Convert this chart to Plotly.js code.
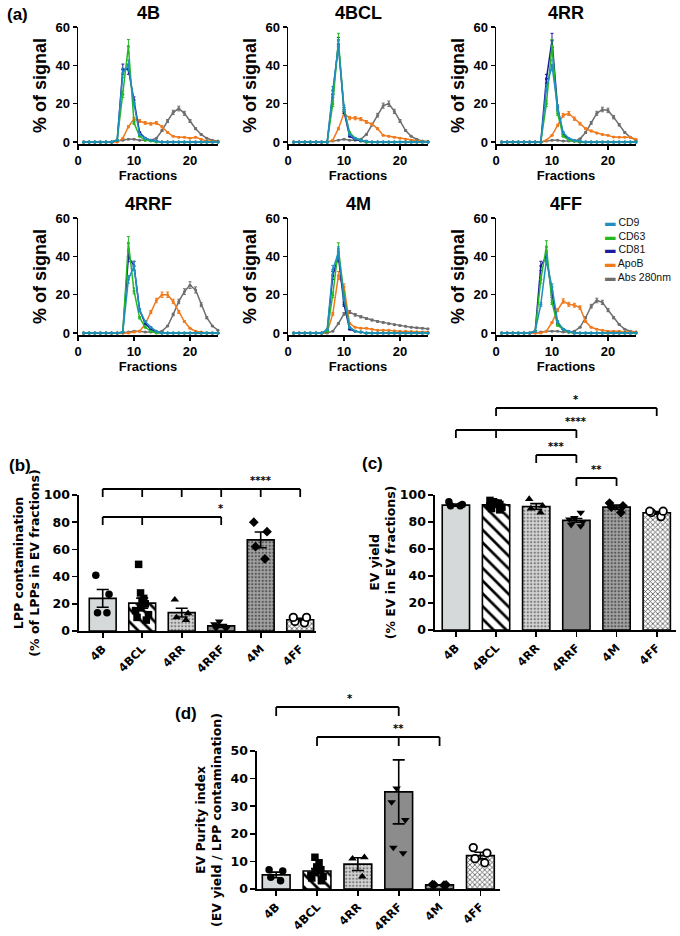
<!DOCTYPE html>
<html><head><meta charset="utf-8">
<script src="https://cdn.plot.ly/plotly-3.0.1.min.js"></script>
<style>html,body{margin:0;padding:0;background:#fff}#chart{width:680px;height:936px}</style>
</head><body><div id="chart"></div>
<script>
// ---------- Panel (a) data: % of signal per SEC fraction ----------
const fractions = [1,2,3,4,5,6,7,8,9,10,11,12,13,14,15,16,17,18,19,20,21,22,23,24,25];
const seriesNames = ['CD9','CD63','CD81','ApoB','Abs 280nm'];
const profilePanels = ['4B','4BCL','4RR','4RRF','4M','4FF'];

const cd9_4B  = [0,0,0,0,0,0,1,36,40,20,4,2,1,0.5,0,0,0,0,0,0,0,0,0,0,0];
const cd63_4B = [0,0,0,0,0,0,1,25,50,10,3,1,0.5,0,0,0,0,0,0,0,0,0,0,0,0];
const cd81_4B = [0,0,0,0,0,0,1,38,38,22,5,2,1,0.5,0,0,0,0,0,0,0,0,0,0,0];
const apob_4B = [0,0,0,0,0,0,0,2,8,12,11,10,9.5,10,8,5,3,2.5,2.5,2,2.5,1.5,0.5,0.5,0.3];
const abs_4B  = [0,0,0,0,0,0,0.5,1,1.5,1.5,1,1,1,2,6,11,15.5,17.5,15,11,7,4,2,1,0.5];

const cd9_4BCL  = [0,0,0,0,0,0,0,27,50,18,4,2,1,0.5,0,0,0,0,0,0,0,0,0,0,0];
const cd63_4BCL = [0,0,0,0,0,0,0,20,53,17,5,2,1,0,0,0,0,0,0,0,0,0,0,0,0];
const cd81_4BCL = [0,0,0,0,0,0,0,25,51,16,3,1.5,0.5,0,0,0,0,0,0,0,0,0,0,0,0];
const apob_4BCL = [0,0,0,0,0,0,0,1,7,15,12.5,12.5,12,10.5,9.3,7,3.5,3,2.5,2,1.5,1,0.5,0.3,0.2];
const abs_4BCL  = [0,0,0,0,0,0,0,0.5,1,1.5,1,1,1.5,4,9,14,19,20,16,11,6,3,1.5,0.5,0.3];

const cd9_4RR  = [0,0,0,0,0,0,0,0,28,40,18,5,2,1,0.5,0,0,0,0,0,0,0,0,0,0];
const cd63_4RR = [0,0,0,0,0,0,0,0,20,50,15,3,1,0.5,0,0,0,0,0,0,0,0,0,0,0];
const cd81_4RR = [0,0,0,0,0,0,0,0,33,53,18,4,1.5,0.5,0,0,0,0,0,0,0,0,0,0,0];
const apob_4RR = [0,0,0,0,0,0,0,0,1,3.5,8.7,14,14.9,12.2,9.6,7,5.8,4.7,4,3.5,2.6,2.5,2.5,2.5,1.5];
const abs_4RR  = [0,0,0,0,0,0,0,0,0.5,1,1,0.5,0.5,0.5,1.7,5,10,15,17,16.5,13,9,5,2.5,1];

const cd9_4RRF  = [0,0,0,0,0,0,0,0.5,28,35,12,6,3,1,0,0,0,0,0,0,0,0,0,0,0];
const cd63_4RRF = [0,0,0,0,0,0,0,0.5,47,22,8,3,1,0,0,0,0,0,0,0,0,0,0,0,0];
const cd81_4RRF = [0,0,0,0,0,0,0,0.5,40,35,12,5,2,0.5,0,0,0,0,0,0,0,0,0,0,0];
const apob_4RRF = [0,0,0,0,0,0,0,0,0,0.5,1,4.6,11,17,20,20,16.5,11,6,2.5,1,0.5,0,0,0];
const abs_4RRF  = [0,0,0,0,0,0,0,0,0.5,1,1,0.5,0.5,0.5,1,3.7,9.7,16.5,21.6,25,22.5,14.8,8,3.7,1.5];

const cd9_4M  = [0,0,0,0,0,0,2,33,42,18,3,1,0.5,0,0,0,0,0,0,0,0,0,0,0,0];
const cd63_4M = [0,0,0,0,0,0,1,20,44,20,3,1,0.5,0,0,0,0,0,0,0,0,0,0,0,0];
const cd81_4M = [0,0,0,0,0,0,1,30,40,15,2,1,0.5,0,0,0,0,0,0,0,0,0,0,0,0];
const apob_4M = [0,0,0,0,0,0,0.5,10,30,24,5,3,2.5,2.5,2,1.5,1.5,1.5,1.2,1,1,0.8,0.7,0.6,0.5];
const abs_4M  = [0,0,0,0,0,0,0,1,5,10,11,9.5,8.5,7.6,6.8,6.1,5.5,4.9,4.4,3.9,3.5,3.1,2.8,2.5,2.2];

const cd9_4FF  = [0,0,0,0,0,0,1,15,38,24,6,2,1,0,0,0,0,0,0,0,0,0,0,0,0];
const cd63_4FF = [0,0,0,0,0,0,1,28,45,16,4,2,0.5,0,0,0,0,0,0,0,0,0,0,0,0];
const cd81_4FF = [0,0,0,0,0,0,1,35,40,20,5,2,0.5,0,0,0,0,0,0,0,0,0,0,0,0];
const apob_4FF = [0,0,0,0,0,0,0,0,1,5.5,12,16.7,15,14.5,13.3,6,3,2,1.5,1,1,1,0.5,0.5,0.5];
const abs_4FF  = [0,0,0,0,0,0,0,0.5,1,1,1,0.5,0.5,1,3,8,14,17,16,12,8,4.5,2,1,0.5];

// ---------- Panels (b)-(d) data ----------
const groups = ['4B','4BCL','4RR','4RRF','4M','4FF'];

const lppMean = [24, 20.5, 13.5, 3.8, 67, 8.3];
const lppSem  = [6.5, 3.7, 3.2, 1.0, 5.8, 1.0];
const lppPts_4B   = [41, 27, 13.5, 13.5];
const lppPts_4BCL = [49, 28, 24, 22, 20, 17, 15, 12, 10, 8];
const lppPts_4RR  = [23, 13, 10, 8];
const lppPts_4RRF = [7, 5, 3, 2, 2];
const lppPts_4M   = [80, 73, 62, 53];
const lppPts_4FF  = [10, 10, 7, 6];

const yieldMean = [92.5, 92.7, 91.5, 81.2, 91, 86.8];
const yieldSem  = [0.8, 0.8, 2.1, 1.4, 1.5, 1.0];
const yieldPts_4B   = [95, 93, 92, 92];
const yieldPts_4BCL = [96, 95, 94, 94, 93, 93, 92, 91, 90, 89];
const yieldPts_4RR  = [97, 92, 90, 87];
const yieldPts_4RRF = [87, 83, 82, 80, 78, 77];
const yieldPts_4M   = [94, 92, 91, 87];
const yieldPts_4FF  = [88, 88, 87, 84];

const purityMean = [5.1, 6.5, 9.0, 35.2, 1.5, 12.1];
const puritySem  = [1.0, 0.9, 2.3, 11.6, 0.05, 1.2];
const purityPts_4B   = [7, 6.5, 4.3, 3];
const purityPts_4BCL = [11.5, 9.5, 8, 7, 6, 5, 4.5, 4, 3];
const purityPts_4RR  = [11.5, 11, 4.5];
const purityPts_4RRF = [90, 36.5, 31.5, 25, 15, 13];
const purityPts_4M   = [1.6, 1.5, 1.5, 1.4];
const purityPts_4FF  = [15, 13, 11, 9.5];

// ---------- helpers ----------
const W = 680, H = 936;
const px = (a, b) => [a / W, b / W];
const py = (top, bottom) => [1 - bottom / H, 1 - top / H];
const NARROW = 'Liberation Sans Narrow, Arial Narrow, Liberation Sans, Arial, sans-serif';
const ARIAL = 'Liberation Sans, Arial, sans-serif';
const DJ = 'DejaVu Sans, Verdana, sans-serif';

const lineColors = ['#1f8fc0', '#25b825', '#1c1ca0', '#f07a1c', '#6e6e6e'];
const profileSeries = {
  '4B':   [cd9_4B, cd63_4B, cd81_4B, apob_4B, abs_4B],
  '4BCL': [cd9_4BCL, cd63_4BCL, cd81_4BCL, apob_4BCL, abs_4BCL],
  '4RR':  [cd9_4RR, cd63_4RR, cd81_4RR, apob_4RR, abs_4RR],
  '4RRF': [cd9_4RRF, cd63_4RRF, cd81_4RRF, apob_4RRF, abs_4RRF],
  '4M':   [cd9_4M, cd63_4M, cd81_4M, apob_4M, abs_4M],
  '4FF':  [cd9_4FF, cd63_4FF, cd81_4FF, apob_4FF, abs_4FF]
};

const traces = [];
const layout = {
  width: W, height: H, margin: {l: 0, r: 0, t: 0, b: 0},
  paper_bgcolor: '#fff', plot_bgcolor: 'rgba(0,0,0,0)',
  showlegend: false, barmode: 'overlay', boxmode: 'overlay',
  annotations: [], shapes: []
};

const colDom = [[78, 218], [288, 428], [496, 636]];
const rowDom = [[27, 144], [218, 335]];
const drawOrder = [4, 3, 2, 1, 0];

profilePanels.forEach((p, i) => {
  const n = i + 1;
  const xa = n === 1 ? 'x' : 'x' + n, ya = n === 1 ? 'y' : 'y' + n;
  const col = colDom[i % 3], row = rowDom[Math.floor(i / 3)];
  drawOrder.forEach(k => {
    traces.push({
      type: 'scatter', mode: 'lines+markers', x: fractions, y: profileSeries[p][k],
      xaxis: xa, yaxis: ya, name: seriesNames[k], cliponaxis: false,
      line: {color: lineColors[k], width: 1.5},
      marker: {color: lineColors[k], size: 3},
      error_y: {type: 'percent', value: 7, color: lineColors[k], thickness: 1, width: 1.5}
    });
  });
  const axStyle = {
    showline: true, linecolor: '#000', linewidth: 1.5, ticks: 'outside', ticklen: 4,
    tickwidth: 1.5, tickcolor: '#000', showgrid: false, zeroline: false,
    tickfont: {family: NARROW, size: 13, color: '#000', weight: 'bold'}
  };
  layout['xaxis' + (n === 1 ? '' : n)] = Object.assign({}, axStyle, {
    domain: px(col[0], col[1]), anchor: ya, range: [0, 25], tickvals: [0, 10, 20],
    title: {text: 'Fractions', font: {family: NARROW, size: 13, color: '#000', weight: 'bold'}, standoff: 2}
  });
  layout['yaxis' + (n === 1 ? '' : n)] = Object.assign({}, axStyle, {
    domain: py(row[0], row[1]), anchor: xa, range: [-1, 60], tickvals: [0, 20, 40, 60],
    title: {text: '% of signal', font: {family: ARIAL, size: 18, color: '#000', weight: 'bold'}, standoff: 4}
  });
  layout.annotations.push({
    text: p, xref: 'paper', yref: 'paper', x: (col[0] + col[1]) / 2 / W,
    y: 1 - (row[0] - 14) / H, xanchor: 'center', yanchor: 'middle', showarrow: false,
    font: {family: NARROW, size: 18, color: '#000', weight: 'bold'}
  });
});

// legend (one text block inside the 4FF panel)
layout.annotations.push({
  xref: 'paper', yref: 'paper', x: 603 / W, y: 1 - 250 / H,
  xanchor: 'left', yanchor: 'middle', showarrow: false, align: 'left',
  text: seriesNames.map((s, k) => '<span style="color:' + lineColors[k] + '">▬</span> ' + s).join('<br>'),
  font: {family: NARROW, size: 10.5, color: '#111'}
});

// ---------- bar panels ----------
const barFill = ['#d6d9d9', '#ffffff', '#d0d0d0', '#8c8c8c', '#a0a0a0', '#ffffff'];
const patShape = ['', '\\', '.', '', '.', 'x'];
const patBg = ['#d6d9d9', '#ffffff', '#d4d4d4', '#8c8c8c', '#a3a3a3', '#ffffff'];
const patFg = ['#000000', '#000000', '#7a7a7a', '#000000', '#555555', '#4a4a4a'];
const patSize = [8, 9, 3.5, 8, 3.5, 3.5];
const patSolid = [0.3, 0.3, 0.35, 0.3, 0.35, 0.4];
const symbols = ['circle', 'square', 'triangle-up', 'triangle-down', 'diamond', 'circle'];
const symFill = ['#000', '#000', '#000', '#000', '#000', '#fff'];

function barPanel(n, means, sems, pts, xdom, xrange, ydom, yrange, dtick, ytitle, standoff) {
  const xa = 'x' + n, ya = 'y' + n;
  groups.forEach((g, i) => {
    const marker = {color: barFill[i], line: {color: '#000', width: 1.6}};
    if (patShape[i]) {
      marker.pattern = {shape: patShape[i], bgcolor: patBg[i], fgcolor: patFg[i],
        size: patSize[i], solidity: patSolid[i], fillmode: 'replace'};
    }
    traces.push({
      type: 'bar', x: [g], y: [means[i]], xaxis: xa, yaxis: ya, width: 0.68, marker: marker,
      error_y: {type: 'data', array: [sems[i]], visible: true, color: '#000', thickness: 1.6, width: 6}
    });
  });
  groups.forEach((g, i) => {
    traces.push({
      type: 'box', x: pts[i].map(() => g), y: pts[i], xaxis: xa, yaxis: ya,
      boxpoints: 'all', jitter: 0.75, pointpos: 0, width: 0.55, whiskerwidth: 0,
      fillcolor: 'rgba(0,0,0,0)', line: {width: 0, color: 'rgba(0,0,0,0)'},
      marker: {symbol: symbols[i], size: 7.5, color: symFill[i], line: {color: '#000', width: i === 5 ? 1.8 : 0}},
      hoveron: 'points'
    });
  });
  layout['xaxis' + n] = {
    domain: px(xdom[0], xdom[1]), anchor: ya, range: xrange, type: 'category',
    categoryorder: 'array', categoryarray: groups, tickangle: -45,
    showline: true, linecolor: '#000', linewidth: 1.6, ticks: 'outside', ticklen: 5, tickwidth: 1.6,
    tickcolor: '#000', showgrid: false, zeroline: false, tickfont: {family: DJ, size: 11.5, color: '#000', weight: 'bold'}
  };
  layout['yaxis' + n] = {
    domain: py(ydom[0], ydom[1]), anchor: xa, range: yrange, dtick: dtick,
    showline: true, linecolor: '#000', linewidth: 1.6, ticks: 'outside', ticklen: 5, tickwidth: 1.6,
    tickcolor: '#000', showgrid: false, zeroline: false, tickfont: {family: DJ, size: 12.5, color: '#000', weight: 'bold'},
    title: {text: ytitle, font: {family: DJ, size: 12.5, color: '#000', weight: 'bold'}, standoff: standoff}
  };
}

barPanel(7, lppMean, lppSem,
  [lppPts_4B, lppPts_4BCL, lppPts_4RR, lppPts_4RRF, lppPts_4M, lppPts_4FF],
  [79, 316], [-0.6, 5.4], [495, 631], [0, 100], 20,
  'LPP contamination<br>(% of LPPs in EV fractions)', 1);
barPanel(8, yieldMean, yieldSem,
  [yieldPts_4B, yieldPts_4BCL, yieldPts_4RR, yieldPts_4RRF, yieldPts_4M, yieldPts_4FF],
  [435, 676], [-0.52, 5.48], [495, 630], [0, 100], 20,
  'EV yield<br>(% EV in EV fractions)', 1);
barPanel(9, purityMean, puritySem,
  [purityPts_4B, purityPts_4BCL, purityPts_4RR, purityPts_4RRF, purityPts_4M, purityPts_4FF],
  [257, 500], [-0.47, 5.48], [751, 889], [0, 50], 10,
  'EV Purity index<br>(EV yield / LPP contamination)', 6);

// significance brackets
function bracket(xref, xs, yPx, tick, label, labelX) {
  const y = 1 - yPx / H, yb = 1 - (yPx + tick) / H;
  const ln = {color: '#000', width: 1.8};
  layout.shapes.push({type: 'line', xref: xref, yref: 'paper', x0: Math.min(...xs), x1: Math.max(...xs), y0: y, y1: y, line: ln});
  xs.forEach(x => layout.shapes.push({type: 'line', xref: xref, yref: 'paper', x0: x, x1: x, y0: y, y1: yb, line: ln}));
  layout.annotations.push({xref: xref, yref: 'paper', x: labelX, y: y + 1 / H, xanchor: 'center', yanchor: 'bottom',
    showarrow: false, text: label, font: {family: DJ, size: 10, color: '#000', weight: 'bold'}});
}
bracket('x7', [0, 1, 2, 3, 4, 5], 489, 8, '****', 4);
bracket('x7', [0, 1, 3], 517, 8, '*', 3);
bracket('x8', [1, 5], 408, 8, '*', 3);
bracket('x8', [0, 1, 3], 430, 8, '****', 3);
bracket('x8', [2, 3], 455, 8, '***', 2.5);
bracket('x8', [3, 4], 478, 8, '**', 3.5);
bracket('x9', [0, 3], 707, 9, '*', 1.8);
bracket('x9', [1, 3, 4], 737, 9, '**', 3);

// panel letters
[['(a)', 5, 15], ['(b)', 7, 465], ['(c)', 360, 463], ['(d)', 173, 713]].forEach(([t, x, y]) => {
  layout.annotations.push({text: t, xref: 'paper', yref: 'paper', x: x / W, y: 1 - y / H,
    xanchor: 'left', yanchor: 'middle', showarrow: false,
    font: {family: ARIAL, size: 17, color: '#000', weight: 'bold'}});
});

Plotly.newPlot('chart', traces, layout, {staticPlot: true});
</script>
</body></html>
